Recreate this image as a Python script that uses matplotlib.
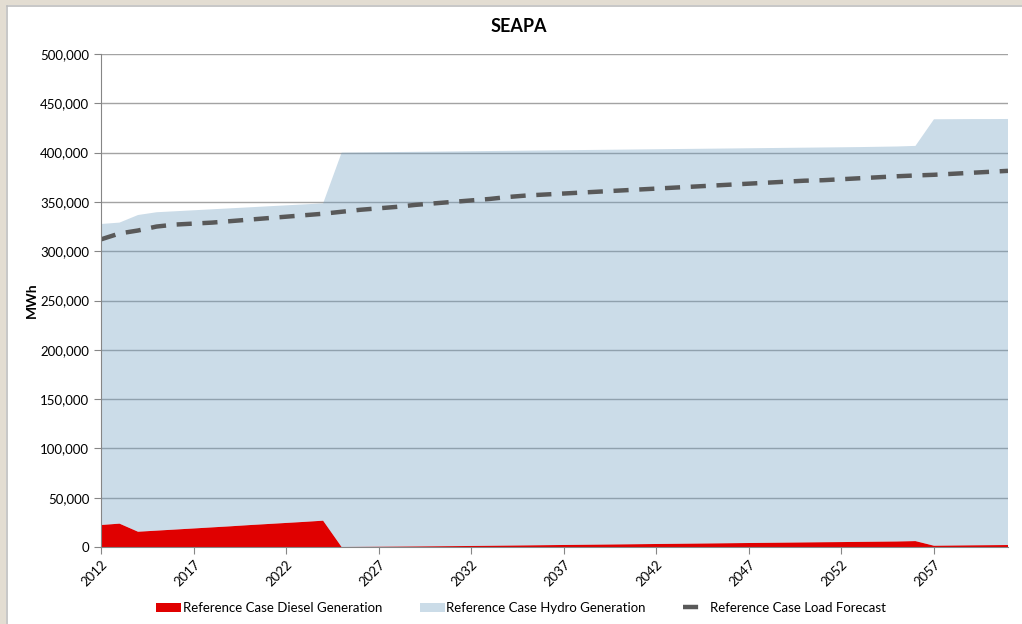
import matplotlib.pyplot as plt
from matplotlib.patches import Rectangle
from matplotlib.ticker import FuncFormatter, MultipleLocator

# Data (MWh)
years = list(range(2012, 2062))

diesel = [22300, 23700, 15500, 16600, 17700, 18800, 19900, 21000, 22200, 23300,
          24400, 25500, 26700, 0, 150, 300, 450, 600, 750, 900,
          1050, 1250, 1450, 1650, 1850, 2050, 2250, 2450, 2650, 2850,
          3050, 3250, 3450, 3650, 3850, 4050, 4250, 4450, 4650, 4850,
          5000, 5200, 5400, 5600, 6000, 1300, 1500, 1700, 1850, 2000]

total_top = [327600, 329000, 336700, 339500, 340500, 341500, 342500, 343500, 344500, 345500,
             346500, 347500, 348500, 400000, 400200, 400400, 400600, 400800, 401000, 401200,
             401400, 401600, 401800, 402000, 402200, 402400, 402600, 402800, 403000, 403200,
             403400, 403600, 403800, 404000, 404200, 404400, 404600, 404800, 405000, 405200,
             405400, 405600, 405900, 406200, 406800, 433800, 433900, 434000, 434000, 434100]

hydro = [t - d for t, d in zip(total_top, diesel)]

load = [312000, 318000, 321000, 325000, 327000, 328000, 329000, 330500, 332000, 333500,
        335000, 336500, 338000, 340000, 342000, 343500, 345000, 347000, 348500, 350000,
        351500, 353000, 355000, 356500, 357500, 358500, 359500, 360500, 361500, 362500,
        363500, 364500, 365500, 366500, 367500, 368500, 369500, 370500, 371500, 372000,
        373000, 374000, 375000, 376000, 376800, 377500, 378500, 379500, 380500, 381500]

tick_years = list(range(2012, 2062, 5))

plt.rcParams['font.family'] = ['Lato', 'DejaVu Sans']

fig = plt.figure(figsize=(10.22, 6.24), dpi=100)
fig.patch.set_facecolor('white')

# beige window frame on top/left edges
fig.patches.append(Rectangle((0, 1 - 5 / 624), 1, 5 / 624, transform=fig.transFigure,
                             facecolor='#E3DDD2', edgecolor='none', zorder=0))
fig.patches.append(Rectangle((0, 0), 6 / 1022, 1, transform=fig.transFigure,
                             facecolor='#E3DDD2', edgecolor='none', zorder=0))
fig.lines.append(plt.Line2D([6.5 / 1022, 1], [1 - 6 / 624, 1 - 6 / 624], transform=fig.transFigure,
                            color='#BDBDBD', lw=1.2))
fig.lines.append(plt.Line2D([6.5 / 1022, 6.5 / 1022], [0, 1 - 6 / 624], transform=fig.transFigure,
                            color='#BDBDBD', lw=1.2))

ax = fig.add_axes([101 / 1022, 1 - 547 / 624, 907 / 1022, 493 / 624])

# gridlines behind a semi-transparent hydro area (so they darken inside it)
for v in range(50000, 500001, 50000):
    ax.axhline(v, color='#A3A3A3', lw=1.0, zorder=1)

polys = ax.stackplot(years, diesel, hydro, colors=['#E00000', '#6F9EC0'],
                     labels=['Reference Case Diesel Generation', 'Reference Case Hydro Generation'],
                     zorder=2)
polys[1].set_alpha(0.36)
ax.plot(years, load, color='#595959', lw=3.2, dashes=(3.4, 2.4),
        label='Reference Case Load Forecast', zorder=4)

ax.set_xlim(2012, 2061)
ax.set_ylim(0, 500000)
ax.yaxis.set_major_locator(MultipleLocator(50000))
ax.yaxis.set_major_formatter(FuncFormatter(lambda v, p: f'{int(v):,}'))
ax.set_xticks(tick_years)
ax.set_xticklabels([str(y) for y in tick_years], rotation=45, ha='right', va='top',
                   rotation_mode='anchor')

for s in ['top', 'right']:
    ax.spines[s].set_visible(False)
for s in ['left', 'bottom']:
    ax.spines[s].set_color('#868686')
    ax.spines[s].set_zorder(5)
ax.tick_params(axis='both', colors='#868686', labelcolor='black', labelsize=9.5,
               length=5, direction='out')
ax.tick_params(axis='x', pad=3)

ax.set_ylabel('MWh', fontsize=10, fontweight='bold')
ax.yaxis.set_label_coords(-63 / 907, 0.5)
fig.text(519 / 1022, 1 - 27 / 624, 'SEAPA', ha='center', va='center',
         fontsize=13, fontweight='bold')

fig.legend(loc='center', bbox_to_anchor=(521 / 1022, 1 - 608 / 624), ncol=3,
           frameon=False, fontsize=9.5, handlelength=1.9, handletextpad=0.1,
           columnspacing=2.85)

fig.savefig('out.png', dpi=100)
